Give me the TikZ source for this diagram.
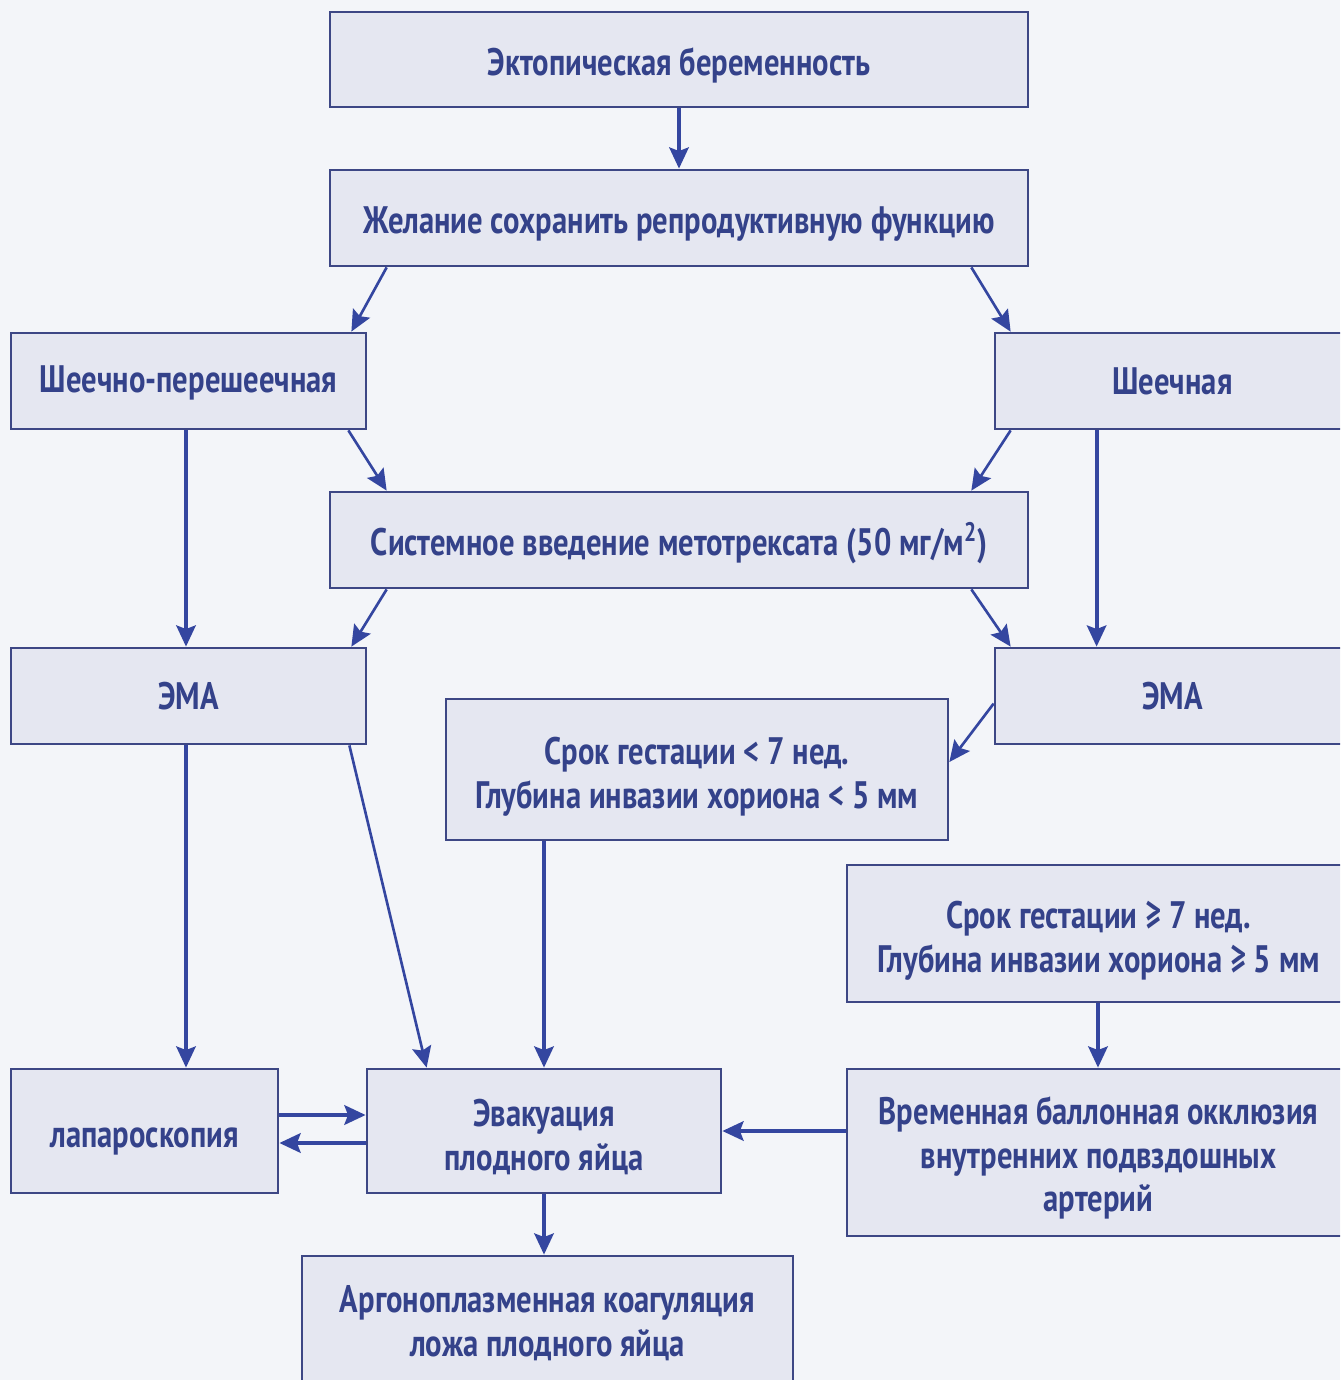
\documentclass[tikz,border=0pt]{standalone}
\usepackage{fontspec}
\newfontfamily\dfont{PT Sans}[FakeStretch=0.8]
\usetikzlibrary{arrows.meta}
\definecolor{bgc}{HTML}{F3F5F9}
\definecolor{boxc}{HTML}{E5E7F1}
\definecolor{bordc}{HTML}{3D4785}
\definecolor{txtc}{HTML}{34428A}
\definecolor{arrc}{HTML}{3446A0}
\newcommand\tup[1]{\rule{0pt}{#1}}
\begin{document}
\begin{tikzpicture}[x=0.02cm,y=-0.02cm,
  box/.style={draw=bordc, fill=boxc, line width=1.6pt, text=txtc,
    font=\dfont\bfseries\fontsize{21.8}{25}\selectfont, align=center, inner sep=0pt},
  arr/.style={draw=arrc, line width=2.2pt, -{Stealth[length=12pt,width=11pt,inset=2pt]}},
  darr/.style={arr, line width=1.5pt}]
\useasboundingbox (0,0) rectangle (1340,1380);
\clip (0,0) rectangle (1340,1380);
\fill[bgc] (0,0) rectangle (1340,1380);

\node[box, minimum width=13.96cm, minimum height=1.9cm] (b1) at (679,59.5) {\tup{22pt}Эктопическая беременность};
\node[box, minimum width=13.96cm, minimum height=1.92cm] (b2) at (679,218) {\tup{22pt}Желание сохранить репродуктивную функцию};
\node[box, minimum width=7.1cm, minimum height=1.92cm] (b3) at (188.5,381) {\tup{18pt}Шеечно-перешеечная};
\node[box, minimum width=7.1cm, minimum height=1.92cm] (b4) at (1172.5,381) {Шеечная};
\node[box, minimum width=13.96cm, minimum height=1.92cm] (b5) at (679,540) {\tup{22pt}Системное введение метотрексата (50 мг/м\textsuperscript{2})};
\node[box, minimum width=7.1cm, minimum height=1.92cm] (b6) at (188.5,696) {ЭМА};
\node[box, minimum width=7.1cm, minimum height=1.92cm] (b7) at (1172.5,696) {ЭМА};
\node[box, minimum width=10.04cm, minimum height=2.82cm] (b8) at (697,769.5) {\tup{24pt}Срок гестации < 7 нед.\\Глубина инвазии хориона < 5 мм};
\node[box, minimum width=10.06cm, minimum height=2.74cm] (b9) at (1098.5,933.5) {\tup{24pt}Срок гестации ≥ 7 нед.\\Глубина инвазии хориона ≥ 5 мм};
\node[box, minimum width=5.34cm, minimum height=2.48cm] (b10) at (144.5,1131) {\tup{23pt}лапароскопия};
\node[box, minimum width=7.08cm, minimum height=2.48cm] (b11) at (544,1131) {\tup{22pt}Эвакуация\\плодного яйца};
\node[box, minimum width=10.06cm, minimum height=3.34cm] (b12) at (1098.5,1152.5) {\tup{22pt}Временная баллонная окклюзия\\внутренних подвздошных\\артерий};
\node[box, minimum width=9.82cm, minimum height=2.68cm] (b13) at (547.5,1323) {Аргоноплазменная коагуляция\\ложа плодного яйца};

\draw[arr] (b1) -- (b2);
\draw[darr] ([xshift=1.16cm]b2.south west) -- ([xshift=-0.32cm]b3.north east);
\draw[darr] ([xshift=-1.16cm]b2.south east) -- ([xshift=0.34cm]b4.north west);
\draw[darr] ([xshift=-0.38cm]b3.south east) -- ([xshift=1.16cm]b5.north west);
\draw[darr] ([xshift=0.34cm]b4.south west) -- ([xshift=-1.16cm]b5.north east);
\draw[arr] ([xshift=-0.05cm]b3.south) -- ([xshift=-0.05cm]b6.north);
\draw[arr] ([xshift=2.06cm]b4.south west) -- ([xshift=2.06cm]b7.north west);
\draw[darr] ([xshift=1.16cm]b5.south west) -- ([xshift=-0.32cm]b6.north east);
\draw[darr] ([xshift=-1.16cm]b5.south east) -- ([xshift=0.34cm]b7.north west);
\draw[darr] ([yshift=-1.14cm]b7.north west) -- ([yshift=0.15cm]b8.east);
\draw[arr] ([xshift=-0.05cm]b6.south) -- ([xshift=-0.05cm]b6.south |- b10.north);
\draw[darr] ([xshift=-0.36cm]b6.south east) -- ([xshift=1.22cm]b11.north west);
\draw[arr] (b11.north |- b8.south) -- (b11.north);
\draw[arr] ([xshift=-0.01cm]b9.south) -- ([xshift=-0.01cm]b12.north);
\draw[arr] (b12.west |- b11.east) -- (b11.east);
\draw[arr] (b11.south) -- (b11.south |- b13.north);
\draw[arr, line width=2.6pt] ([yshift=0.32cm]b10.east) -- ([yshift=0.32cm]b11.west);
\draw[arr, line width=2.6pt] ([yshift=-0.24cm]b11.west) -- ([yshift=-0.24cm]b10.east);
\end{tikzpicture}
\end{document}
